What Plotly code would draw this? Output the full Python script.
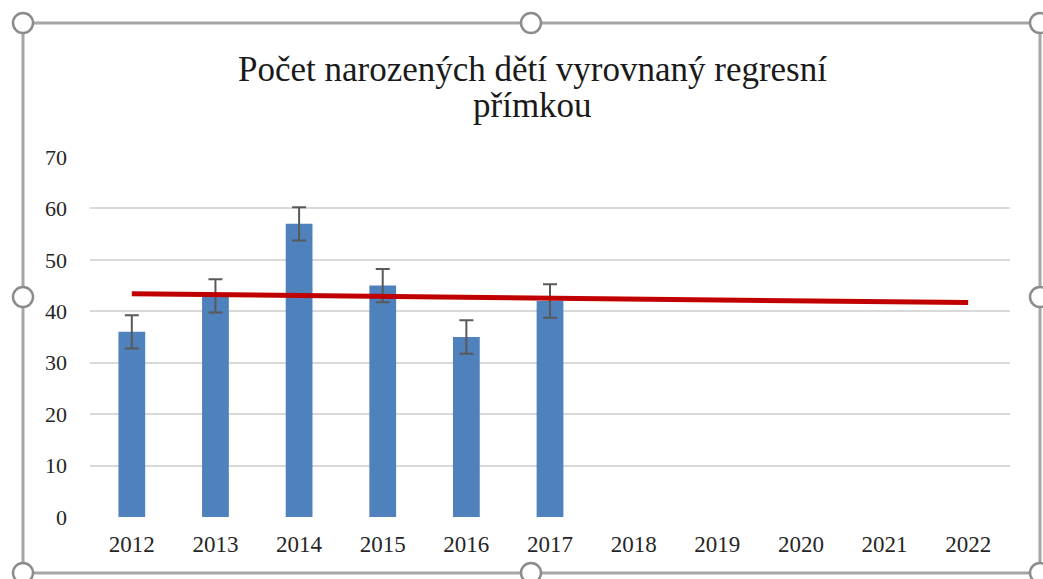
import plotly.graph_objects as go

years = ["2012", "2013", "2014", "2015", "2016", "2017", "2018", "2019", "2020", "2021", "2022"]
bar_years = ["2012", "2013", "2014", "2015", "2016", "2017"]
births = [36, 43, 57, 45, 35, 42]
std_error = [3.24, 3.24, 3.24, 3.24, 3.24, 3.24]
trend_years = ["2012", "2022"]
trend_values = [43.4, 41.7]
y_ticks = [0, 10, 20, 30, 40, 50, 60, 70]
title_lines = ["Počet narozených dětí vyrovnaný regresní", "přímkou"]

W, H = 1043, 579
L, R, T, B = 90, 33, 157, 62
pw, ph = W - L - R, H - T - B

def px_x(p):
    return (p - L) / pw

def px_y(p):
    return (H - B - p) / ph

fig = go.Figure()
fig.add_trace(go.Bar(
    x=bar_years, y=births, width=0.32,
    marker=dict(color="#4f81bd", line=dict(width=0)),
    error_y=dict(type="data", array=std_error, visible=True,
                 color="#595959", thickness=2, width=7),
    showlegend=False, hoverinfo="x+y",
))
fig.add_trace(go.Scatter(
    x=trend_years, y=trend_values, mode="lines",
    line=dict(color="#c00000", width=5), showlegend=False,
))

shapes = []
border_col = "#a6a6a6"
bx0, bx1, by0, by1 = 23, 1040, 23, 573
shapes.append(dict(type="rect", xref="paper", yref="paper",
                   x0=px_x(bx0), x1=px_x(bx1), y0=px_y(by1), y1=px_y(by0),
                   line=dict(color=border_col, width=3), fillcolor="rgba(0,0,0,0)",
                   layer="above"))
for hx, hy in [(bx0, by0), (531, by0), (bx1, by0), (bx0, 297), (bx1, 297),
               (bx0, by1), (531, by1), (bx1, by1)]:
    shapes.append(dict(type="circle", xref="paper", yref="paper",
                       xsizemode="pixel", ysizemode="pixel",
                       xanchor=px_x(hx), yanchor=px_y(hy),
                       x0=-10, x1=10, y0=-10, y1=10,
                       line=dict(color="#8c8c8c", width=2.5), fillcolor="white",
                       layer="above"))

annotations = []
for line_text, cy in zip(title_lines, [70, 105]):
    annotations.append(dict(text=line_text, xref="paper", yref="paper",
                            x=px_x(532), y=px_y(cy), xanchor="center", yanchor="middle",
                            showarrow=False,
                            font=dict(size=35, color="#1a1a1a",
                                      family="Liberation Serif, Times New Roman, serif")))

fig.update_layout(
    width=W, height=H,
    margin=dict(l=L, r=R, t=T, b=B, pad=0),
    paper_bgcolor="white", plot_bgcolor="white",
    font=dict(family="Liberation Serif, Times New Roman, serif", color="#262626"),
    xaxis=dict(type="category", categoryorder="array", categoryarray=years,
               range=[-0.5, 10.5], showgrid=False, zeroline=False,
               showline=False, ticks="", tickfont=dict(size=23, color="#262626"),
               ticklabelstandoff=11),
    yaxis=dict(range=[0, 70], tickvals=y_ticks, showgrid=True,
               gridcolor="#d9d9d9", gridwidth=1.5, zeroline=False, showline=False,
               ticks="", tickfont=dict(size=22, color="#262626"),
               ticklabelstandoff=22),
    shapes=shapes,
    annotations=annotations,
    bargap=0.68,
)

fig.write_html("out.html", config={"displayModeBar": False},
               post_script="document.body.style.margin='0';document.body.style.overflow='hidden';")
